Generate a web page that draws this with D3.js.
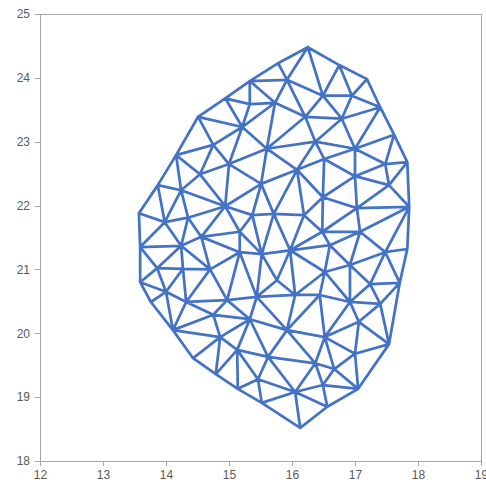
<!DOCTYPE html>
<html>
<head>
<meta charset="utf-8">
<script src="https://cdn.jsdelivr.net/npm/d3@7"></script>
<style>
  html, body { margin: 0; padding: 0; background: #fff; }
  svg { display: block; }
</style>
</head>
<body>
<div id="chart"></div>
<script>
// Outline nodes of the mesh, in order around the shape
const outerX = [16.25,16.75,17.19,17.40,17.62,17.83,17.86,17.83,17.71,17.54,17.05,16.56,16.13,15.52,15.14,14.79,14.43,14.11,13.76,13.59,13.59,13.57,13.87,14.16,14.51,14.94,15.33,15.78];
const outerY = [24.48,24.20,23.98,23.54,23.11,22.68,21.98,21.32,20.79,19.83,19.13,18.85,18.52,18.91,19.13,19.36,19.61,20.05,20.49,20.80,21.35,21.88,22.32,22.79,23.39,23.68,23.95,24.23];

// Inner nodes of the mesh
const innerX = [15.92,15.33,15.73,16.49,16.95,16.21,16.79,15.21,14.75,15.60,16.37,17.00,16.51,17.48,15.00,14.54,15.51,16.08,17.00,17.54,14.24,14.94,16.49,17.03,13.98,14.35,15.37,15.71,16.19,14.56,15.17,16.48,17.08,14.24,13.86,14.27,14.70,15.17,15.52,15.97,16.60,17.48,16.92,17.24,15.76,16.52,14.00,14.32,14.97,15.44,16.05,16.44,16.92,17.40,14.75,15.33,15.92,17.06,14.86,16.52,15.13,15.62,17.00,16.67,16.37,15.46,16.05,16.49];
const innerY = [23.97,23.59,23.61,23.72,23.72,23.39,23.36,23.23,22.95,22.89,23.00,22.89,22.73,22.65,22.65,22.49,22.34,22.56,22.46,22.32,22.24,21.99,22.13,21.96,21.74,21.81,21.85,21.87,21.85,21.51,21.59,21.59,21.59,21.37,21.02,21.01,21.00,21.27,21.24,21.30,21.38,21.27,21.07,20.77,20.83,20.96,20.65,20.49,20.52,20.57,20.60,20.60,20.49,20.46,20.29,20.22,20.05,20.18,19.94,19.94,19.74,19.63,19.68,19.44,19.53,19.28,19.08,19.19];

// Axis ticks
const xTicks = [12,13,14,15,16,17,18,19];
const yTicks = [18,19,20,21,22,23,24,25];

const W = 486, H = 490;
const x = d3.scaleLinear().domain([12, 19]).range([40, 481]);
const y = d3.scaleLinear().domain([18, 25]).range([461, 14]);

const svg = d3.select("#chart").append("svg")
  .attr("width", W).attr("height", H);

// Plot frame
svg.append("rect")
  .attr("x", x(12)).attr("y", y(25))
  .attr("width", x(19) - x(12)).attr("height", y(18) - y(25))
  .attr("fill", "none").attr("stroke", "#a6a6a6").attr("stroke-width", 1)
  .attr("shape-rendering", "crispEdges");

const xAxis = d3.axisBottom(x).tickValues(xTicks).tickSize(5).tickPadding(4).tickFormat(d3.format("d"));
const yAxis = d3.axisLeft(y).tickValues(yTicks).tickSize(5).tickPadding(5).tickFormat(d3.format("d"));

const gx = svg.append("g").attr("transform", `translate(0,${y(18)})`).call(xAxis);
const gy = svg.append("g").attr("transform", `translate(${x(12)},0)`).call(yAxis);
[gx, gy].forEach(g => {
  g.select(".domain").attr("stroke", "#a6a6a6").attr("shape-rendering", "crispEdges");
  g.selectAll(".tick line").attr("stroke", "#a6a6a6").attr("shape-rendering", "crispEdges");
  g.selectAll(".tick text")
    .attr("fill", "#595959")
    .style("font-family", "'Liberation Sans', Arial, sans-serif")
    .style("font-size", "12px");
});

// Nodes in pixel space
const outerPts = outerX.map((v, i) => [x(v), y(outerY[i])]);
const innerPts = innerX.map((v, i) => [x(v), y(innerY[i])]);
const pts = outerPts.concat(innerPts);

// Triangulate, keeping only triangles that lie within the outline
const delaunay = d3.Delaunay.from(pts);
const tri = delaunay.triangles;
const edges = new Map();
for (let t = 0; t < tri.length; t += 3) {
  const a = tri[t], b = tri[t + 1], c = tri[t + 2];
  const cx = (pts[a][0] + pts[b][0] + pts[c][0]) / 3;
  const cy = (pts[a][1] + pts[b][1] + pts[c][1]) / 3;
  if (!d3.polygonContains(outerPts, [cx, cy])) continue;
  [[a, b], [b, c], [c, a]].forEach(([p, q]) => {
    const key = p < q ? p + "-" + q : q + "-" + p;
    if (!edges.has(key)) edges.set(key, [p, q]);
  });
}

const path = d3.path();
for (const [p, q] of edges.values()) {
  path.moveTo(pts[p][0], pts[p][1]);
  path.lineTo(pts[q][0], pts[q][1]);
}
svg.append("path")
  .attr("d", path.toString())
  .attr("fill", "none")
  .attr("stroke", "#4472C4")
  .attr("stroke-width", 2.75)
  .attr("stroke-linecap", "round")
  .attr("stroke-linejoin", "round");
</script>
</body>
</html>
